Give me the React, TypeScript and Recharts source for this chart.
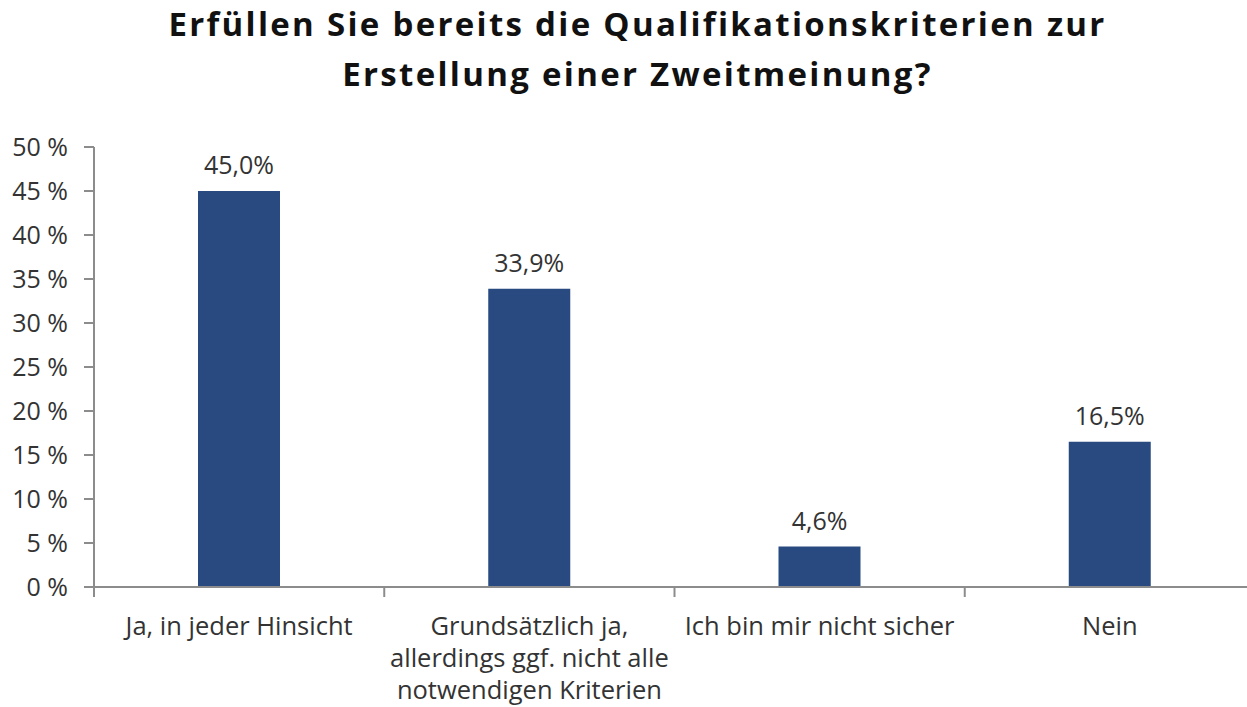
import { BarChart, Bar, XAxis, YAxis, LabelList } from "recharts";

// Answer categories (line breaks mark where the axis label wraps).
const CATEGORIES = [
  "Ja, in jeder Hinsicht",
  "Grundsätzlich ja,\nallerdings ggf. nicht alle\nnotwendigen Kriterien",
  "Ich bin mir nicht sicher",
  "Nein",
];

// Share of respondents in percent.
const SHARES = [45.0, 33.9, 4.6, 16.5];

// Y axis ticks in percent.
const Y_TICKS = [0, 5, 10, 15, 20, 25, 30, 35, 40, 45, 50];

const TITLE_LINES = [
  "Erfüllen Sie bereits die Qualifikationskriterien zur",
  "Erstellung einer Zweitmeinung?",
];

const FONT = "'Open Sans', Roboto, sans-serif";
const TEXT_COLOR = "#333333";
const AXIS_COLOR = "#8c8c8c";
const BAR_COLOR = "#294a80";

const data = CATEGORIES.map((category, i) => ({ category, share: SHARES[i] }));

// Category tick: wrapped label plus tick marks at the category boundaries.
function CategoryTick(props: any) {
  const { x, y, payload, index, visibleTicksCount } = props;
  const half = payload.offset ?? 0;
  const lines = String(payload.value).split("\n");
  const axisY = y - 8;
  return (
    <g>
      <line x1={x - half} x2={x - half} y1={axisY} y2={axisY + 10} stroke={AXIS_COLOR} strokeWidth={2} />
      {index === visibleTicksCount - 1 && (
        <line x1={x + half} x2={x + half} y1={axisY} y2={axisY + 10} stroke={AXIS_COLOR} strokeWidth={2} />
      )}
      <text x={x} y={axisY + 48} textAnchor="middle" fill={TEXT_COLOR} fontSize={25.5} fontFamily={FONT}>
        {lines.map((line, i) => (
          <tspan key={i} x={x} dy={i === 0 ? 0 : 32}>
            {line}
          </tspan>
        ))}
      </text>
    </g>
  );
}

export default function App() {
  return (
    <div
      style={{
        position: "fixed",
        left: 0,
        top: 0,
        width: 1247,
        height: 707,
        overflow: "hidden",
        background: "#ffffff",
      }}
    >
      {/* Title */}
      <div
        style={{
          position: "absolute",
          left: 0,
          top: -1,
          width: 1275,
          textAlign: "center",
          fontFamily: FONT,
          fontWeight: 700,
          fontSize: 33,
          letterSpacing: 2.3,
          lineHeight: "50px",
          color: "#111111",
        }}
      >
        {TITLE_LINES.map((line) => (
          <div key={line}>{line}</div>
        ))}
      </div>

      <div style={{ position: "absolute", left: 0, top: 0 }}>
        <BarChart
          width={1262}
          height={707}
          data={data}
          margin={{ top: 147, right: 7, bottom: 0, left: 0 }}
        >
          <YAxis
            type="number"
            domain={[0, 50]}
            ticks={Y_TICKS}
            interval={0}
            width={94}
            tickFormatter={(v: number) => `${v} %`}
            axisLine={{ stroke: AXIS_COLOR, strokeWidth: 2 }}
            tickLine={{ stroke: AXIS_COLOR, strokeWidth: 2 }}
            tickSize={10}
            tickMargin={16}
            tick={{ fill: TEXT_COLOR, fontSize: 25, fontFamily: FONT }}
          />
          <XAxis
            dataKey="category"
            type="category"
            interval={0}
            height={120}
            axisLine={{ stroke: AXIS_COLOR, strokeWidth: 2 }}
            tickLine={false}
            tick={<CategoryTick />}
          />
          <Bar dataKey="share" fill={BAR_COLOR} barSize={82} isAnimationActive={false}>
            <LabelList
              dataKey="share"
              position="top"
              offset={17}
              formatter={(v: any) => `${Number(v).toFixed(1).replace(".", ",")}%`}
              style={{ fill: TEXT_COLOR, fontSize: 25, fontFamily: FONT }}
            />
          </Bar>
        </BarChart>
      </div>
    </div>
  );
}
